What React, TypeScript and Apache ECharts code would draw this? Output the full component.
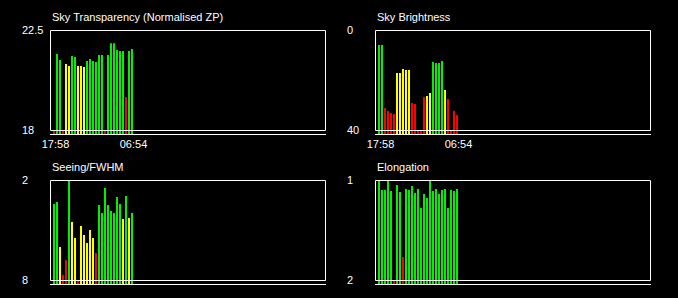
import React, { useEffect, useRef } from "react";
import * as echarts from "echarts";

// Observation times (one bin per bar); only the first and last are labelled
const times = [
  "17:58", "18:28", "18:58", "19:28", "19:58", "20:27", "20:57", "21:27", "21:57",
  "22:27", "22:56", "23:26", "23:56", "00:26", "00:56", "01:25", "01:55", "02:25",
  "02:55", "03:25", "03:54", "04:24", "04:54", "05:24", "05:54", "06:24", "06:54",
];

// Quality flags: g = good, y = marginal, r = bad
const transparency = [
  18, 21.42, 21.15, 18, 20.97, 20.88, 21.33, 21.29, 20.88, 20.88, 20.84, 21.1, 21.2, 21.1,
  21.06, 21.38, 21.38, 18, 21.38, 21.9, 21.9, 21.6, 21.55, 21.55, 19.49, 21.55, 21.65,
];
const transparencyQ = [
  "r", "g", "g", "r", "y", "y", "g", "g", "y", "y", "y", "g", "g", "g",
  "g", "g", "g", "r", "g", "g", "g", "g", "g", "g", "r", "g", "g",
];

const brightness = [
  6.0, 6.0, 31.2, 32.4, 33.2, 33.6, 17.2, 17.2, 15.6, 16.0, 16.0, 29.2, 29.6, 40,
  40, 26.8, 26.4, 25.2, 12.8, 13.2, 13.2, 12.4, 24.0, 27.6, 40, 32.4, 34.0,
];
const brightnessQ = [
  "g", "g", "r", "r", "r", "r", "y", "y", "y", "y", "y", "r", "r", "r",
  "r", "r", "y", "y", "g", "g", "g", "g", "y", "r", "r", "r", "r",
];

const seeing = [
  3.44, 3.32, 6.02, 7.7, 6.8, 2.0, 4.52, 5.48, 8, 4.76, 5.3, 5.78, 5.0, 5.48,
  6.38, 3.5, 3.98, 2.48, 3.5, 3.86, 3.98, 3.02, 3.44, 4.34, 2.96, 4.28, 3.98,
];
const seeingQ = [
  "g", "g", "y", "r", "r", "g", "y", "y", "r", "y", "y", "y", "y", "y",
  "r", "g", "g", "g", "g", "g", "g", "g", "g", "y", "g", "y", "g",
];

const elongation = [
  1.0, 1.1, 1.1, 1.0, 1.11, 2, 1.05, 1.12, 1.77, 1.09, 1.1, 1.06, 1.13, 1.09,
  1.28, 1.14, 1.18, 1.0, 1.11, 1.09, 1.14, 1.1, 1.09, 1.28, 1.1, 1.11, 1.09,
];
const elongationQ = [
  "g", "g", "g", "g", "g", "r", "g", "g", "r", "g", "g", "g", "g", "g",
  "g", "g", "g", "g", "g", "g", "g", "g", "g", "g", "g", "g", "g",
];

const titles = ["Sky Transparency (Normalised ZP)", "Sky Brightness", "Seeing/FWHM", "Elongation"];
const topLabels = [22.5, 0, 2, 1];
const bottomLabels = [18, 40, 8, 2];

const panelValues = [transparency, brightness, seeing, elongation];
const panelFlags = [transparencyQ, brightnessQ, seeingQ, elongationQ];

const COLORS: Record<string, string> = { g: "#00f000", y: "#ffff00", r: "#ff0000" };
const FONT = "'Liberation Sans', Arial, sans-serif";

// layout
const PANEL_LEFT = [50, 375, 50, 375];
const PANEL_TOP = [30, 30, 180, 180];
const BOX_W = 275;
const BOX_H = 100;
const GRID_H = 105;
const BAR_STEP = 3;
const X_MIN = -4 / 3;

export default function App() {
  const ref = useRef<HTMLDivElement>(null);

  useEffect(() => {
    if (!ref.current) return;
    const chart = echarts.init(ref.current, undefined, { renderer: "svg" });

    const grids: any[] = [];
    const xAxes: any[] = [];
    const yAxes: any[] = [];
    const series: any[] = [];
    const titleArr: any[] = [];
    const graphics: any[] = [];

    for (let k = 0; k < 4; k++) {
      const left = PANEL_LEFT[k];
      const top = PANEL_TOP[k];
      const a = topLabels[k];
      const b = bottomLabels[k];
      const ext = b + (b - a) * ((GRID_H - BOX_H) / BOX_H);
      const inverse = a < b;

      grids.push({ left, top, width: BOX_W + 1, height: GRID_H, containLabel: false });

      xAxes.push({
        type: "value",
        gridIndex: k,
        min: X_MIN,
        max: X_MIN + (BOX_W + 1) / BAR_STEP,
        axisLine: { show: false },
        axisTick: { show: false },
        splitLine: { show: false },
        axisLabel: {
          show: k < 2,
          customValues: [0, times.length - 1],
          formatter: (v: number) => times[Math.round(v)] ?? "",
          color: "#ffffff",
          fontSize: 11,
          fontFamily: FONT,
          margin: 3,
          padding: [0, 0, 0, 3],
        },
      });

      yAxes.push({
        type: "value",
        gridIndex: k,
        inverse,
        min: inverse ? a : ext,
        max: inverse ? ext : a,
        startValue: ext,
        axisLine: { show: false },
        axisTick: { show: false },
        splitLine: { show: false },
        axisLabel: {
          customValues: [a, b],
          formatter: (v: number) => String(v),
          color: "#ffffff",
          fontSize: 11,
          fontFamily: FONT,
          align: "left",
          margin: 28,
        },
      });

      const vals = panelValues[k];
      const flags = panelFlags[k];
      series.push({
        type: "bar",
        xAxisIndex: k,
        yAxisIndex: k,
        barWidth: 2,
        clip: true,
        data: vals.map((v, i) => ({
          value: [i, v],
          itemStyle: { color: COLORS[flags[i]] },
        })),
      });

      titleArr.push({
        text: titles[k],
        left: left + 2,
        top: top - 19,
        padding: 0,
        textStyle: { color: "#ffffff", fontSize: 11, fontWeight: "normal", fontFamily: FONT },
      });

      graphics.push({
        type: "rect",
        z: 10,
        shape: { x: left + 0.5, y: top + 0.5, width: BOX_W, height: BOX_H },
        style: { fill: "none", stroke: "#ffffff", lineWidth: 1 },
      });
      graphics.push({
        type: "line",
        z: 10,
        shape: { x1: left, y1: top + GRID_H - 0.5, x2: left + BOX_W + 1, y2: top + GRID_H - 0.5 },
        style: { stroke: "#ffffff", lineWidth: 1 },
      });
    }

    chart.setOption({
      animation: false,
      backgroundColor: "#000000",
      title: titleArr,
      grid: grids,
      xAxis: xAxes,
      yAxis: yAxes,
      series,
      graphic: graphics,
    });

    return () => chart.dispose();
  }, []);

  return (
    <div
      ref={ref}
      style={{ position: "fixed", left: 0, top: 0, width: 678, height: 298, background: "#000" }}
    />
  );
}
